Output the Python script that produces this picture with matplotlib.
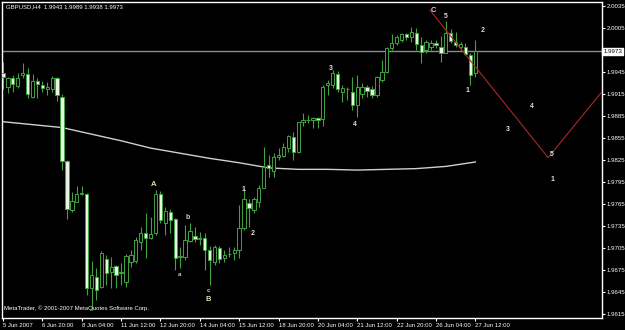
import matplotlib
matplotlib.use('Agg')
import matplotlib.pyplot as plt
from matplotlib.patches import Rectangle

# ---------------- data (GBPUSD, H4) ----------------
opens = [1.9944, 1.9925, 1.9937, 1.9926, 1.9941, 1.9942, 1.9911, 1.9933, 1.9927, 1.9921,
         1.9921, 1.9937, 1.9911, 1.9823, 1.9757, 1.9768, 1.9778, 1.9778, 1.9650, 1.9665,
         1.9652, 1.9690, 1.9672, 1.9680, 1.9671, 1.9658, 1.9686, 1.9687, 1.9713, 1.9725,
         1.9718, 1.9725, 1.9778, 1.9739, 1.9754, 1.9744, 1.9692, 1.9693, 1.9714, 1.9721,
         1.9717, 1.9718, 1.9702, 1.9686, 1.9705, 1.9691, 1.9696, 1.9698, 1.9702, 1.9732,
         1.9766, 1.9757, 1.9768, 1.9787, 1.9818, 1.9810, 1.9829, 1.9830, 1.9841, 1.9856,
         1.9836, 1.9877, 1.9880, 1.9880, 1.9882, 1.9881, 1.9927, 1.9927, 1.9942, 1.9918,
         1.9921, 1.9918, 1.9900, 1.9915, 1.9925, 1.9922, 1.9914, 1.9934, 1.9945, 1.9978,
         1.9985, 1.9989, 1.9997, 1.9992, 1.9998, 1.9981, 1.9975, 1.9979, 1.9985, 1.9979,
         1.9971, 1.9998, 1.9986, 1.9979, 1.9979, 1.9968, 1.9943]
highs = [1.9959, 1.9938, 1.9941, 1.9944, 1.9957, 1.9950, 1.9942, 1.9937, 1.9933, 1.9931,
         1.9939, 1.9938, 1.9915, 1.9825, 1.9781, 1.9789, 1.9789, 1.9780, 1.9687, 1.9677,
         1.9701, 1.9695, 1.9693, 1.9682, 1.9684, 1.9697, 1.9702, 1.9720, 1.9733, 1.9753,
         1.9747, 1.9784, 1.9782, 1.9761, 1.9758, 1.9746, 1.9706, 1.9736, 1.9739, 1.9733,
         1.9726, 1.9725, 1.9707, 1.9709, 1.9707, 1.9702, 1.9706, 1.9706, 1.9763, 1.9787,
         1.9771, 1.9774, 1.9791, 1.9842, 1.9832, 1.9834, 1.9841, 1.9848, 1.9859, 1.9863,
         1.9877, 1.9889, 1.9886, 1.9884, 1.9884, 1.9927, 1.9934, 1.9948, 1.9946, 1.9927,
         1.9925, 1.9938, 1.9941, 1.9930, 1.9927, 1.9926, 1.9939, 1.9961, 1.9979, 1.9997,
         1.9995, 1.9998, 1.9998, 2.0006, 2.0005, 1.9992, 1.9989, 1.9989, 1.9989, 1.9994,
         2.0014, 2.0004, 1.9999, 1.9986, 1.9985, 1.9971, 1.9989]
lows = [1.9921, 1.9916, 1.9918, 1.9923, 1.9937, 1.9910, 1.9910, 1.9910, 1.9918, 1.9913,
        1.9918, 1.9905, 1.9811, 1.9744, 1.9754, 1.9768, 1.9777, 1.9641, 1.9620, 1.9634,
        1.9650, 1.9654, 1.9650, 1.9650, 1.9654, 1.9652, 1.9679, 1.9684, 1.9702, 1.9691,
        1.9717, 1.9722, 1.9739, 1.9722, 1.9725, 1.9675, 1.9677, 1.9688, 1.9713, 1.9713,
        1.9709, 1.9675, 1.9654, 1.9682, 1.9684, 1.9686, 1.9693, 1.9688, 1.9691, 1.9729,
        1.9733, 1.9753, 1.9761, 1.9787, 1.9802, 1.9802, 1.9825, 1.9829, 1.9836, 1.9825,
        1.9834, 1.9871, 1.9875, 1.9868, 1.9868, 1.9871, 1.9913, 1.9923, 1.9918, 1.9904,
        1.9907, 1.9893, 1.9884, 1.9910, 1.9911, 1.9910, 1.9911, 1.9931, 1.9944, 1.9975,
        1.9982, 1.9986, 1.9989, 1.9986, 1.9975, 1.9957, 1.9971, 1.9975, 1.9978, 1.9959,
        1.9971, 1.9985, 1.9979, 1.9975, 1.9968, 1.9927, 1.9938]
closes = [1.9938, 1.9937, 1.9929, 1.9937, 1.9944, 1.9915, 1.9933, 1.9929, 1.9923, 1.9925,
          1.9937, 1.9914, 1.9823, 1.9758, 1.9769, 1.9778, 1.9780, 1.9650, 1.9668, 1.9647,
          1.9698, 1.9671, 1.9679, 1.9668, 1.9672, 1.9694, 1.9695, 1.9716, 1.9725, 1.9718,
          1.9724, 1.9778, 1.9743, 1.9755, 1.9743, 1.9691, 1.9694, 1.9716, 1.9728, 1.9717,
          1.9719, 1.9702, 1.9688, 1.9706, 1.9690, 1.9695, 1.9697, 1.9702, 1.9732, 1.9771,
          1.9759, 1.9771, 1.9787, 1.9815, 1.9814, 1.9829, 1.9831, 1.9842, 1.9857, 1.9836,
          1.9876, 1.9880, 1.9879, 1.9882, 1.9879, 1.9925, 1.9930, 1.9944, 1.9922, 1.9923,
          1.9922, 1.9900, 1.9925, 1.9925, 1.9919, 1.9914, 1.9938, 1.9945, 1.9978, 1.9985,
          1.9993, 1.9997, 1.9993, 1.9999, 1.9983, 1.9972, 1.9986, 1.9985, 1.9981, 1.9971,
          1.9998, 1.9987, 1.9982, 1.9983, 1.9970, 1.9941, 1.9973]

# 200-period moving average, read at every 6th bar
ma_bars = [0, 6, 12, 18, 24, 30, 36, 42, 48, 54, 60, 66, 72, 78, 84, 90, 96]
ma_values = [1.9877, 1.9873, 1.9869, 1.9860, 1.9851, 1.9841, 1.9834, 1.9827, 1.9821,
             1.9814, 1.9812, 1.9812, 1.9811, 1.9812, 1.9813, 1.9816, 1.9822]

# projected wave path (red line)
proj_bars = [86.8, 110.8, 122.6]
proj_prices = [2.0029, 1.9828, 1.9925]

bid_price = 1.9973

date_tick_bars = [0, 8, 16, 24, 32, 40, 48, 56, 64, 72, 80, 88, 96]
date_tick_labels = ["5 Jun 2007", "6 Jun 20:00", "8 Jun 04:00", "11 Jun 12:00", "12 Jun 20:00",
                    "14 Jun 04:00", "15 Jun 12:00", "18 Jun 20:00", "20 Jun 04:00",
                    "21 Jun 12:00", "22 Jun 20:00", "26 Jun 04:00", "27 Jun 12:00"]
price_ticks = [2.0035, 2.0005, 1.9945, 1.9915, 1.9885, 1.9855, 1.9825, 1.9795,
               1.9765, 1.9735, 1.9705, 1.9675, 1.9645, 1.9615]

# wave labels: text, bar position, price, colour
wave_texts = ["C", "5", "2", "1", "3", "4", "3", "4", "5", "1",
              "A", "b", "a", "c", "B", "1", "2"]
wave_bars = [87.4, 90.0, 97.6, 94.5, 66.7, 71.5, 102.6, 107.5, 111.6, 111.6,
             30.7, 37.6, 35.8, 41.7, 41.7, 48.8, 50.8]
wave_prices = [2.0029, 2.0020, 2.0002, 1.9920, 1.9950, 1.9873, 1.9867, 1.9898, 1.9832, 1.9798,
               1.9792, 1.9746, 1.9668, 1.9647, 1.9635, 1.9784, 1.9725]
wave_colors = ["#d8d8d8", "#d8d8d8", "#e0e0e0", "#e0e0e0", "#e0e0e0", "#e0e0e0", "#e0e0e0",
               "#e0e0e0", "#e0e0e0", "#e0e0e0", "#e6dca0", "#d0d0d0", "#d0d0d0", "#d0d0d0",
               "#e6dca0", "#e0e0e0", "#e0e0e0"]
wave_sizes = [5.5, 5, 5, 5, 5, 5, 5, 5, 5, 5, 5.5, 5, 4.5, 4.5, 5.5, 5, 5]

# ---------------- drawing ----------------
W, H = 625, 330
fig = plt.figure(figsize=(W / 100, H / 100), dpi=100, facecolor='black')
ax = fig.add_axes([2 / W, 12 / H, 600 / W, 316 / H])
ax.set_facecolor('black')

edge_green = '#3fa33f'
bear_fill = '#e6f5e0'
body_w = 0.68
small_font = 'Liberation Sans'

for i, (o, h, l, c) in enumerate(zip(opens, highs, lows, closes)):
    ax.plot([i, i], [l, h], color=edge_green, lw=0.8, zorder=2, solid_capstyle='butt')
    lo, hi = min(o, c), max(o, c)
    if hi - lo < 0.00005:
        ax.plot([i - body_w / 2, i + body_w / 2], [o, o], color=edge_green, lw=0.8, zorder=3)
    else:
        face = 'black' if c > o else bear_fill
        ax.add_patch(Rectangle((i - body_w / 2, lo), body_w, hi - lo, facecolor=face,
                               edgecolor=edge_green, lw=0.7, zorder=3))

ax.plot(ma_bars, ma_values, color='#cfcfcf', lw=1.0, zorder=1)
ax.axhline(bid_price, color='#8a8a8a', lw=1.0, zorder=1)
ax.plot(proj_bars, proj_prices, color='#a52a2a', lw=0.8, zorder=4)

for t, b, p, col, fs in zip(wave_texts, wave_bars, wave_prices, wave_colors, wave_sizes):
    ax.text(b, p, t, color=col, fontsize=fs, ha='center', va='center', zorder=5,
            family=small_font, fontweight='bold')

ax.set_xlim(-0.2, 121.75)
ax.set_ylim(1.96092, 2.00403)

ax.set_xticks(date_tick_bars)
ax.set_xticklabels(date_tick_labels, ha='left', family=small_font)
ax.yaxis.tick_right()
ax.set_yticks(price_ticks)
ax.set_yticklabels([f"{v:.4f}" for v in price_ticks], family=small_font)
ax.tick_params(axis='x', colors='white', labelsize=4.3, length=2, pad=1.5, width=0.8)
ax.tick_params(axis='y', colors='white', labelsize=4.4, length=2, pad=1.2, width=0.8)
for lab in ax.get_xticklabels():
    lab.set_horizontalalignment('left')
for s in ax.spines.values():
    s.set_color('white')
    s.set_linewidth(1.0)

ax.text(1.002, bid_price, "1.9973", transform=ax.get_yaxis_transform(), color='black',
        fontsize=4.4, va='center', ha='left', family=small_font,
        bbox=dict(boxstyle='square,pad=0.15', facecolor='white', edgecolor='white'))

fig.text(6 / W, 1 - 7 / H, "GBPUSD,H4  1.9943 1.9989 1.9938 1.9973", color='white',
         fontsize=4.3, va='center', ha='left', family=small_font)
fig.text(4 / W, 1 - 308 / H, "MetaTrader, © 2001-2007 MetaQuotes Software Corp.",
         color='white', fontsize=4.3, va='center', ha='left', family=small_font)

fig.savefig('out.png', dpi=100, facecolor='black')
